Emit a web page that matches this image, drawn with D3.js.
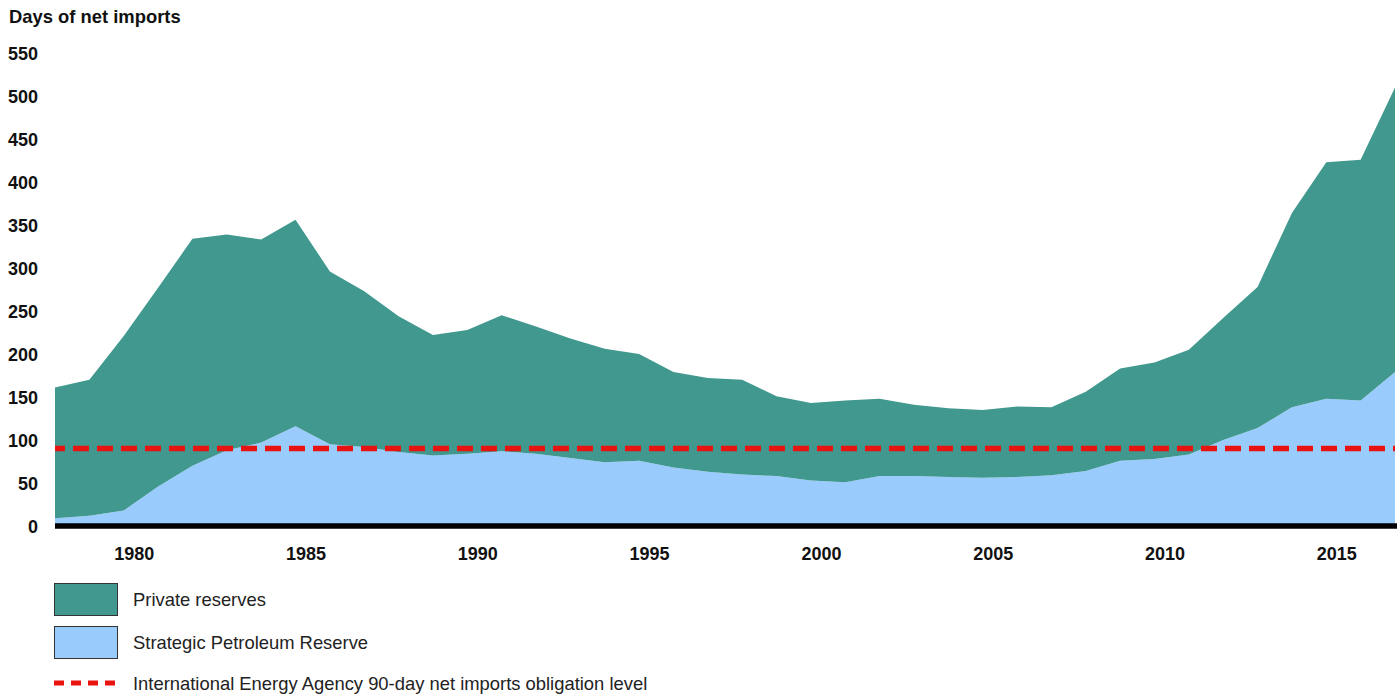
<!DOCTYPE html>
<html>
<head>
<meta charset="utf-8">
<script src="https://cdn.jsdelivr.net/npm/d3@7"></script>
<style>
    body { margin: 0; background: #fff; }
    svg text { font-family: "Liberation Sans", Arial, sans-serif; fill: #111; }
    .tick-label { font-size: 18px; font-weight: bold; }
    .title { font-size: 18.4px; font-weight: bold; }
    .legend-label { font-size: 18.4px; fill: #222; }
</style>
</head>
<body>
<div id="chart"></div>
<script>
// --------- DATA ---------

// years 1978 - 2017
let years = d3.range(1978, 2018);

// Strategic Petroleum Reserve, days of net imports
let spr = [9, 12, 18, 46, 70, 88, 97, 116, 95, 92,
           86, 82, 84, 87, 84, 79, 74, 76, 68, 63,
           60, 58, 53, 51, 58, 58, 57, 56, 57, 59,
           64, 76, 78, 83, 100, 114, 138, 148, 146, 179];

// total (SPR + private), days of net imports
let total = [161, 170, 221, 277, 334, 339, 333, 356, 296, 273,
             244, 222, 228, 245, 232, 218, 206, 200, 179, 172,
             170, 151, 143, 146, 148, 141, 137, 135, 139, 138,
             156, 183, 190, 205, 242, 278, 364, 423, 426, 510];

let privateRes = total.map((t, i) => t - spr[i]);

let yTicks = [0, 50, 100, 150, 200, 250, 300, 350, 400, 450, 500, 550];
let xTicks = [1980, 1985, 1990, 1995, 2000, 2005, 2010, 2015];
let ieaLevel = 90;

let seriesNames = ["Strategic Petroleum Reserve", "Private reserves"];
let legendItems = ["Private reserves", "Strategic Petroleum Reserve",
    "International Energy Agency 90-day net imports obligation level"];

// --------- GRAPHING ---------

let width = 1400, height = 698;
let colors = {"Private reserves": "#40988e", "Strategic Petroleum Reserve": "#99cbfd"};

let svg = d3.select("#chart")
    .append("svg")
    .attr("width", width)
    .attr("height", height);

let xScale = d3.scaleLinear()
    .domain([1978, 2017])
    .range([55, 1395]);

let yScale = d3.scaleLinear()
    .domain([0, 550])
    .range([526, 53]);

// stack the two series
let rows = years.map((yr, i) => ({
    year: yr,
    "Strategic Petroleum Reserve": spr[i],
    "Private reserves": privateRes[i]
}));
let stacked = d3.stack().keys(seriesNames)(rows);

let area = d3.area()
    .x(d => xScale(d.data.year))
    .y0(d => yScale(d[0]))
    .y1(d => yScale(d[1]));

svg.selectAll(".layer")
    .data(stacked)
    .join("path")
    .attr("class", "layer")
    .attr("fill", d => colors[d.key])
    .attr("d", area);

// Title
svg.append("text")
    .attr("x", 9)
    .attr("y", 23)
    .attr("class", "title")
    .text("Days of net imports");

// Y axis (labels only)
let yAxis = d3.axisLeft(yScale)
    .tickValues(yTicks)
    .tickSize(0)
    .tickPadding(0);
let yg = svg.append("g")
    .attr("transform", "translate(38,0)")
    .call(yAxis);
yg.select(".domain").remove();
yg.selectAll("text")
    .attr("class", "tick-label")
    .attr("dy", "0.35em")
    .attr("fill", "#111");

// X axis
let xAxis = d3.axisBottom(xScale)
    .tickValues(xTicks)
    .tickFormat(d3.format("d"))
    .tickSize(0)
    .tickPadding(0);
let xg = svg.append("g")
    .attr("transform", "translate(0,547)")
    .call(xAxis);
xg.select(".domain").remove();
xg.selectAll("text")
    .attr("class", "tick-label")
    .attr("dx", 10)
    .attr("dy", "0.71em")
    .attr("fill", "#111");

// baseline
svg.append("line")
    .attr("x1", xScale(1978))
    .attr("x2", xScale(2017) + 2)
    .attr("y1", yScale(0))
    .attr("y2", yScale(0))
    .attr("stroke", "#000")
    .attr("stroke-width", 5.5);

// IEA 90-day line
svg.append("line")
    .attr("x1", xScale(1978))
    .attr("x2", xScale(2017))
    .attr("y1", yScale(ieaLevel))
    .attr("y2", yScale(ieaLevel))
    .attr("stroke", "#e8120f")
    .attr("stroke-width", 5.5)
    .attr("stroke-dasharray", "16,8")
    .attr("stroke-dashoffset", 6);

// Legend
let legend = svg.append("g").attr("transform", "translate(54,583)");

legendItems.slice(0, 2).forEach((name, i) => {
    legend.append("rect")
        .attr("x", 0.5)
        .attr("y", i * 43 + 0.5)
        .attr("width", 63)
        .attr("height", 32)
        .attr("fill", colors[name])
        .attr("stroke", "#333")
        .attr("stroke-width", 1);
    legend.append("text")
        .attr("x", 79)
        .attr("y", i * 43 + 23)
        .attr("class", "legend-label")
        .text(name);
});

legend.append("line")
    .attr("x1", 0)
    .attr("x2", 64)
    .attr("y1", 100)
    .attr("y2", 100)
    .attr("stroke", "#e8120f")
    .attr("stroke-width", 5)
    .attr("stroke-dasharray", "10,7");
legend.append("text")
    .attr("x", 79)
    .attr("y", 107)
    .attr("class", "legend-label")
    .text(legendItems[2]);
</script>
</body>
</html>
